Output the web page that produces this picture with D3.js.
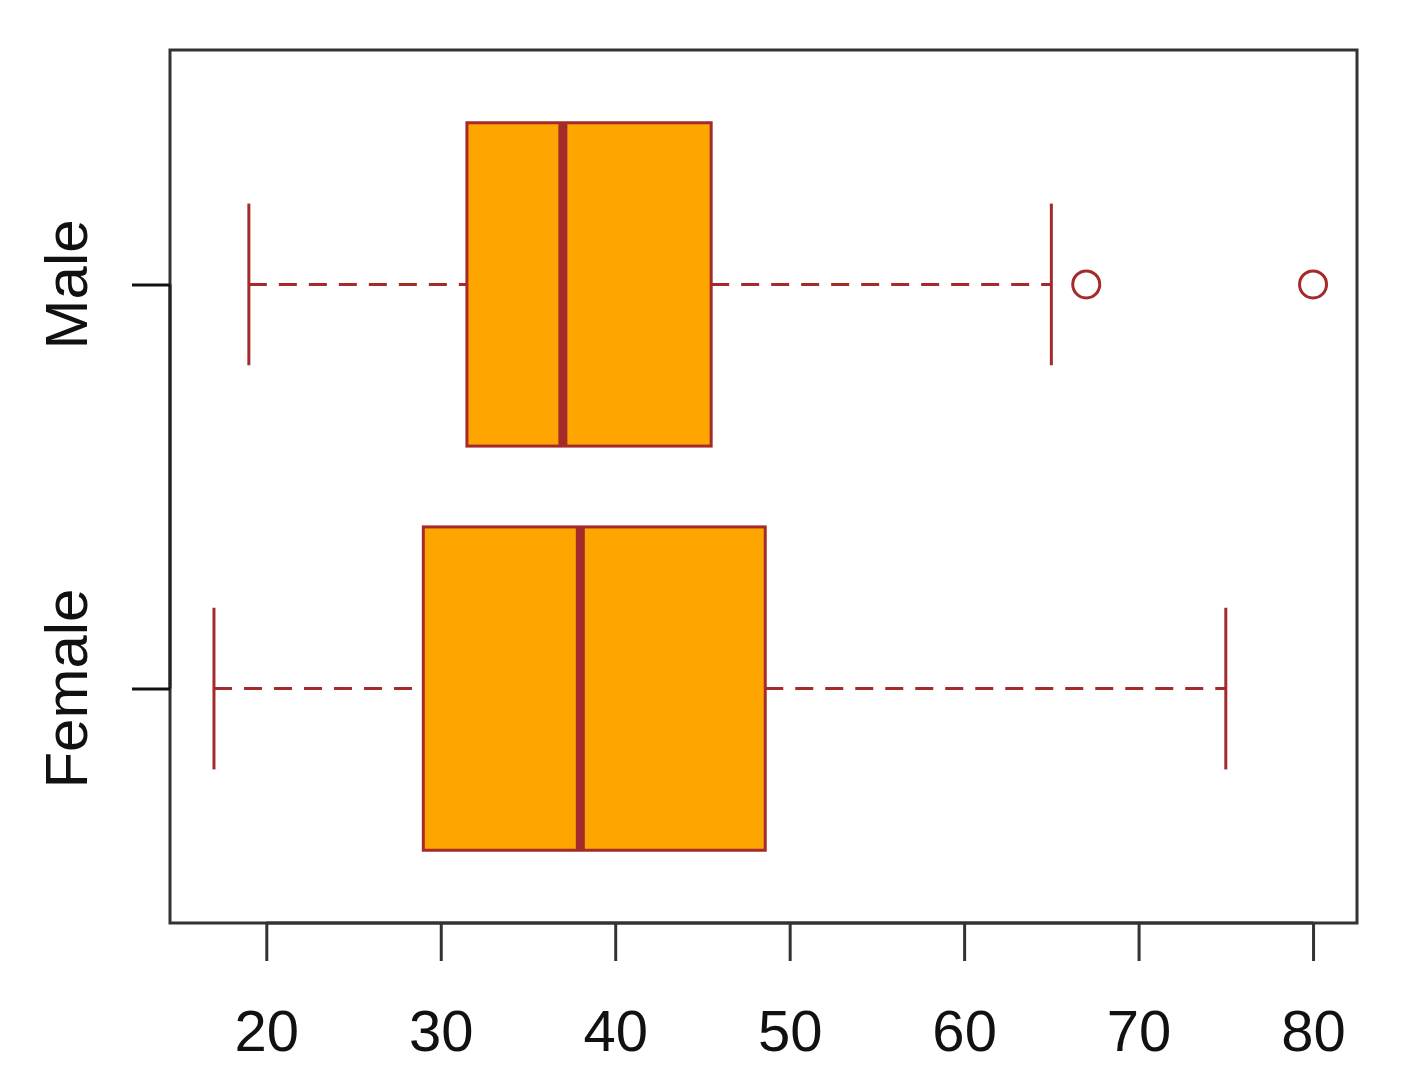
<!DOCTYPE html>
<html>
<head>
<meta charset="utf-8">
<script src="https://cdn.jsdelivr.net/npm/d3@7"></script>
<style>
html,body{margin:0;padding:0;background:#fff;}
svg text{font-family:"Liberation Sans",Arial,Helvetica,sans-serif;}
</style>
</head>
<body>
<svg id="chart" width="1402" height="1088"></svg>
<script>
// Data
const categories = ["Female", "Male"];
const whiskerLow  = [17, 19];
const q1          = [29, 31.5];
const medians     = [38, 37];
const q3          = [48.6, 45.5];
const whiskerHigh = [75, 65];
const outliers    = [[], [67, 80]];
const xTicks      = [20, 30, 40, 50, 60, 70, 80];

(function () {
const svg = d3.select("#chart");
const pLeft = 170, pRight = 1357, pTop = 50, pBottom = 923;

const x = d3.scaleLinear().domain([14.48, 82.52]).range([pLeft, pRight]);
const y = d3.scaleLinear().domain([0.42, 2.58]).range([pBottom, pTop]);

const brown = "#A52A2A";
const boxHalf = 0.4, capHalf = 0.2;

const data = categories.map((c, i) => ({
  c, pos: i + 1, lo: whiskerLow[i], q1: q1[i], med: medians[i], q3: q3[i], hi: whiskerHigh[i], out: outliers[i]
}));

const g = svg.append("g");
data.forEach(d => {
  const cy = y(d.pos);
  g.append("line").attr("x1", x(d.lo)).attr("x2", x(d.q1)).attr("y1", cy).attr("y2", cy)
    .attr("stroke", brown).attr("stroke-width", 3).attr("stroke-dasharray", "18,12");
  g.append("line").attr("x1", x(d.q3)).attr("x2", x(d.hi)).attr("y1", cy).attr("y2", cy)
    .attr("stroke", brown).attr("stroke-width", 3).attr("stroke-dasharray", "18,12");
  [d.lo, d.hi].forEach(v => {
    g.append("line").attr("x1", x(v)).attr("x2", x(v))
      .attr("y1", y(d.pos + capHalf)).attr("y2", y(d.pos - capHalf))
      .attr("stroke", brown).attr("stroke-width", 3);
  });
  g.append("rect").attr("x", x(d.q1)).attr("width", x(d.q3) - x(d.q1))
    .attr("y", y(d.pos + boxHalf)).attr("height", y(d.pos - boxHalf) - y(d.pos + boxHalf))
    .attr("fill", "#FFA500").attr("stroke", brown).attr("stroke-width", 3);
  g.append("line").attr("x1", x(d.med)).attr("x2", x(d.med))
    .attr("y1", y(d.pos + boxHalf)).attr("y2", y(d.pos - boxHalf))
    .attr("stroke", brown).attr("stroke-width", 9);
  d.out.forEach(v => {
    g.append("circle").attr("cx", x(v)).attr("cy", cy).attr("r", 13.5)
      .attr("fill", "none").attr("stroke", brown).attr("stroke-width", 3);
  });
});

svg.append("rect").attr("x", pLeft).attr("y", pTop).attr("width", pRight - pLeft).attr("height", pBottom - pTop)
  .attr("fill", "none").attr("stroke", "#333").attr("stroke-width", 3);

const xAxis = d3.axisBottom(x).tickValues(xTicks).tickSize(38).tickPadding(49).tickFormat(d3.format("d"));
const xa = svg.append("g").attr("transform", `translate(0,${pBottom})`).call(xAxis);
xa.select(".domain").attr("d", `M${x(xTicks[0])},0H${x(xTicks[xTicks.length-1])}`).attr("stroke", "#333").attr("stroke-width", 3);
xa.selectAll(".tick line").attr("stroke", "#333").attr("stroke-width", 3);
xa.selectAll(".tick text").attr("font-size", 58).attr("fill", "#111")
  .attr("font-family", "Liberation Sans, Arial, sans-serif").attr("dy", "0.71em");

const yAxis = d3.axisLeft(y).tickValues([1, 2]).tickSize(38).tickFormat(() => "");
const ya = svg.append("g").attr("transform", `translate(${pLeft},0)`).call(yAxis);
ya.select(".domain").attr("d", `M0,${y(1)}V${y(2)}`).attr("stroke", "#222").attr("stroke-width", 3);
ya.selectAll(".tick line").attr("stroke", "#111").attr("stroke-width", 3);

data.forEach(d => {
  svg.append("text")
    .attr("transform", `translate(87,${y(d.pos)}) rotate(-90)`)
    .attr("text-anchor", "middle")
    .attr("font-size", 60).attr("fill", "#111")
    .text(d.c);
});
})();
</script>
</body>
</html>
